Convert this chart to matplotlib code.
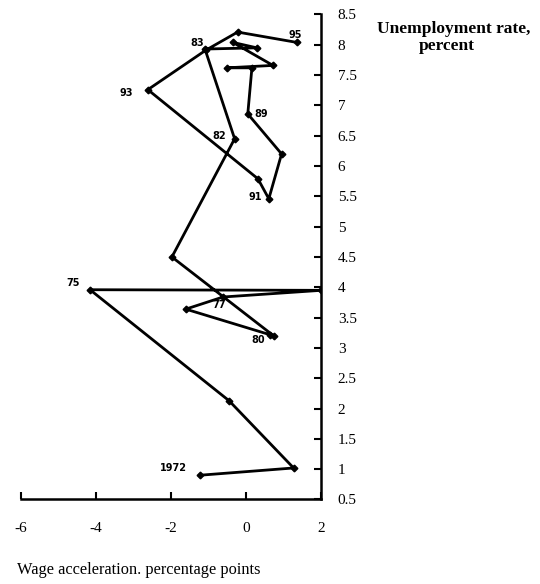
import matplotlib
matplotlib.use('Agg')
import matplotlib.pyplot as plt

plt.rcParams['axes.unicode_minus'] = False

# wage acceleration (x) vs unemployment rate (y), 1972 onwards
years = list(range(1972, 1997))
wage_accel = [-1.23, 1.27, -0.45, -4.15, 2.0, -0.61, -1.6, 0.63, 0.76, -1.97,
              -0.30, -1.09, 0.29, -0.35, 0.72, -0.51, 0.16, 0.05, 0.95, 0.61,
              0.32, -2.61, -1.07, -0.22, 1.35]
unemp = [0.90, 1.02, 2.13, 3.96, 3.95, 3.84, 3.64, 3.22, 3.19, 4.50,
         6.45, 7.93, 7.95, 8.04, 7.66, 7.62, 7.62, 6.86, 6.20, 5.46,
         5.79, 7.26, 7.91, 8.21, 8.04]

# which points get a year label, and the text
label_idx = [0, 3, 5, 8, 10, 11, 17, 19, 21, 24]
label_txt = ['1972', '75', '77', '80', '82', '83', '89', '91', '93', '95']
label_off = [(-9.5, 5.5), (-7, 5), (-3, -6), (-6.5, -2.5), (-6, 2), (-0.5, 4.5),
             (5, 0), (-5, 1), (-11, -2.5), (-1, 5)]
label_ha = ['right', 'right', 'center', 'right', 'right', 'right',
            'left', 'right', 'right', 'center']

x_ticks = [-6, -4, -2, 0, 2]
y_ticks = [0.5, 1, 1.5, 2, 2.5, 3, 3.5, 4, 4.5, 5, 5.5, 6, 6.5, 7, 7.5, 8, 8.5]

fig = plt.figure(figsize=(5.4, 5.84), dpi=100)
ax = fig.add_axes([0.038, 0.1447, 0.5565, 0.8305])

ax.plot(wage_accel, unemp, color='black', lw=2.0, marker='D', ms=3.4,
        solid_joinstyle='miter')

for i, t, off, ha in zip(label_idx, label_txt, label_off, label_ha):
    ax.annotate(t, (wage_accel[i], unemp[i]), xytext=off, textcoords='offset points',
                ha=ha, va='center', fontsize=7, fontweight='bold',
                family='DejaVu Sans')

ax.set_xlim(-6, 2)
ax.set_ylim(0.5, 8.5)
for s in ['top', 'left']:
    ax.spines[s].set_visible(False)
for s in ['bottom', 'right']:
    ax.spines[s].set_linewidth(1.8)

ax.set_xticks(x_ticks)
ax.set_yticks(y_ticks)
ax.set_yticklabels(['%g' % v for v in y_ticks])
ax.set_xticklabels(['%g' % v for v in x_ticks])
ax.yaxis.tick_right()
ax.tick_params(axis='both', direction='in', length=5, width=1.5,
               labelsize=11)
ax.tick_params(axis='y', pad=12)
ax.tick_params(axis='x', pad=16)
for lab in ax.get_xticklabels() + ax.get_yticklabels():
    lab.set_family('Liberation Serif')

fig.text(454 / 540, 1 - 33 / 584, 'Unemployment rate,', ha='center', va='baseline',
         fontsize=12.5, fontweight='bold', family='Liberation Serif')
fig.text(447 / 540, 1 - 50 / 584, 'percent', ha='center', va='baseline',
         fontsize=12.5, fontweight='bold', family='Liberation Serif')
fig.text(17 / 540, 1 - 570 / 584, 'Wage acceleration. percentage points',
         ha='left', va='center', fontsize=11.8, family='Liberation Serif')

fig.savefig('out.png', dpi=100)
